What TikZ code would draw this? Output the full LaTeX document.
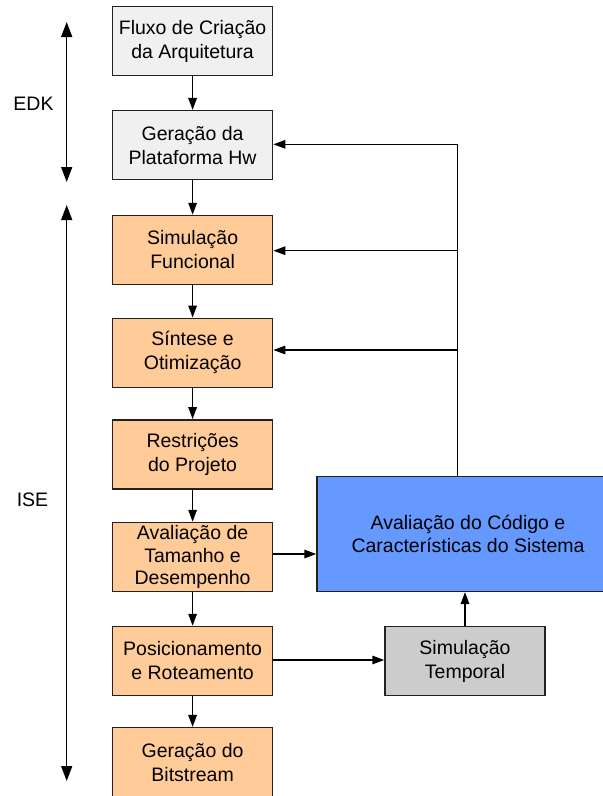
\documentclass[tikz,border=0pt]{standalone}
\usepackage{fontspec}
\setmainfont{Liberation Sans}
\usetikzlibrary{arrows.meta}
\definecolor{lgray}{HTML}{F0F0F0}
\definecolor{orng}{HTML}{FFCC99}
\definecolor{blu}{HTML}{6699FF}
\definecolor{mgray}{HTML}{CCCCCC}
\definecolor{edge}{HTML}{222222}
\begin{document}
\begin{tikzpicture}[x=1pt,y=-1pt,
  box/.style={draw=edge,line width=1.5pt,minimum width=160pt,minimum height=69pt,inner sep=0pt,align=center,font=\fontsize{19.5}{24}\selectfont},
  conn/.style={draw=black,line width=1.5pt,-{Triangle[length=12pt,width=8.5pt]}},
  span/.style={draw=black,line width=1.5pt,{Triangle[length=15pt,width=11pt]}-{Triangle[length=15pt,width=11pt]}},
  lbl/.style={font=\fontsize{19.5}{23}\selectfont}]
\useasboundingbox (0,0) rectangle (603,796);
\node[box,fill=lgray] (fluxo) at (192.6,41.2) {Fluxo de Criação\\da Arquitetura};
\node[box,fill=lgray] (plat) at (192.6,145.2) {Geração da\\Plataforma Hw};
\node[box,fill=orng] (simf) at (192.6,250) {Simulação\\Funcional};
\node[box,fill=orng] (sint) at (192.6,352.8) {Síntese e\\Otimização};
\node[box,fill=orng] (rest) at (192.6,454.3) {Restrições\\do Projeto};
\node[box,fill=orng,font=\fontsize{19.5}{22.5}\selectfont] (aval) at (192.6,557) {Avaliação de\\Tamanho e\\Desempenho};
\node[box,fill=orng] (pos) at (192.6,661) {Posicionamento\\e Roteamento};
\node[box,fill=orng] (bit) at (192.6,762.2) {Geração do\\Bitstream};
\node[box,fill=blu,minimum width=302pt,minimum height=114.6pt,font=\fontsize{19.5}{23}\selectfont] (blue) at (468,534) {Avaliação do Código e\\Características do Sistema};
\node[box,fill=mgray] (simt) at (465,661) {Simulação\\Temporal};
\node[lbl] (edk) at (33.5,103.5) {EDK};
\node[lbl] (ise) at (32.5,500) {ISE};
\coordinate (edkT) at (66.7,22);
\coordinate (edkB) at (66.7,182);
\coordinate (iseT) at (66.7,205);
\coordinate (iseB) at (66.7,781);
\draw[span] (edkT) -- (edkB);
\draw[span] (iseT) -- (iseB);
\draw[conn] (fluxo) -- (plat);
\draw[conn] (plat) -- (simf);
\draw[conn] (simf) -- (sint);
\draw[conn] (sint) -- (rest);
\draw[conn] (rest) -- (aval);
\draw[conn] (aval) -- (pos);
\draw[conn] (pos) -- (bit);
\draw[conn] (aval.east |- 0,554) -- (blue.west |- 0,554);
\draw[conn] (pos.east |- 0,660) -- (simt.west |- 0,660);
\draw[conn] (simt) -- (blue.south -| simt);
\coordinate (fbTop) at (457.7,144.3);
\draw[line width=1.5pt] (blue.north -| fbTop) -- (fbTop);
\draw[conn] (fbTop) -- (plat.east |- fbTop);
\draw[conn] (457.7,250.7) -- (simf.east |- 0,250.7);
\draw[conn] (457.7,350) -- (sint.east |- 0,350);
\end{tikzpicture}
\end{document}
